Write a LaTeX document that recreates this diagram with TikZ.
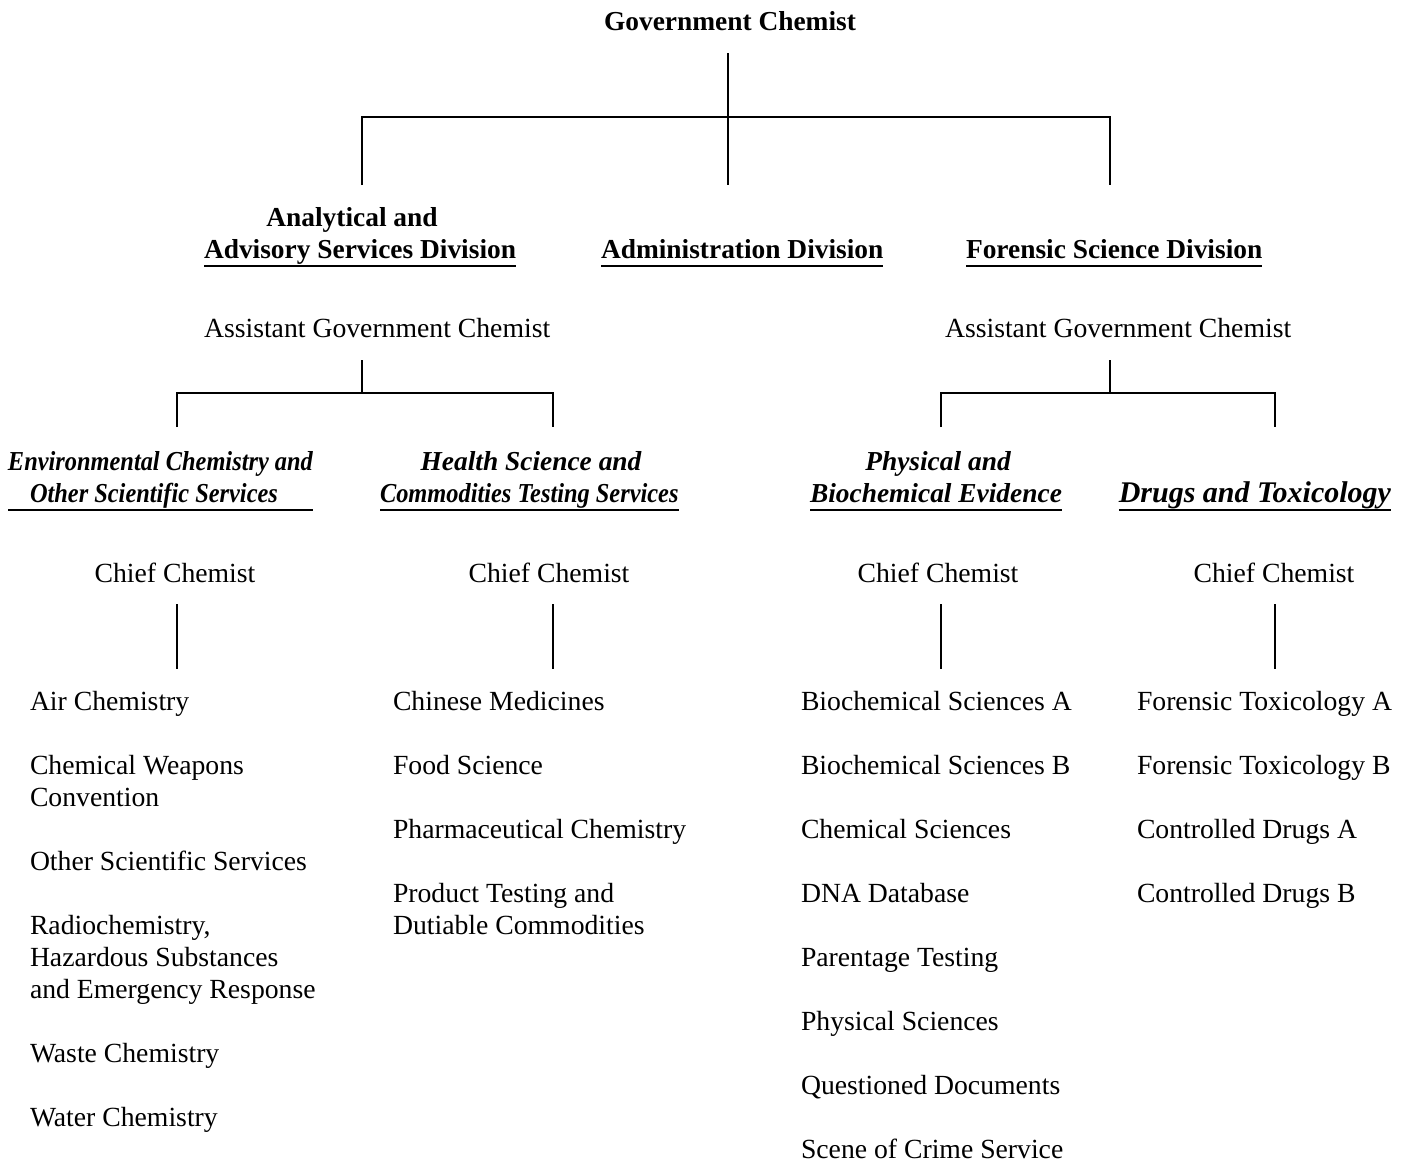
\documentclass[tikz,border=0pt]{standalone}
\usepackage{fontspec}
\setmainfont{Liberation Serif}
\usepackage{graphicx}
\begin{document}
\begin{tikzpicture}[x=1pt,y=-1pt,
  txt/.style={inner sep=0pt, outer sep=0pt, font=\fontsize{27.7}{32}\selectfont},
  ttl/.style={txt, font=\fontsize{27.4}{32}\selectfont\bfseries},
  sub/.style={txt, font=\fontsize{27.4}{32}\selectfont\bfseries\itshape},
  itm/.style={txt, anchor=north west, yshift=22.4pt, align=left},
  conn/.style={line width=2.2pt},
  uln/.style={line width=2.2pt}]
\useasboundingbox (0,0) rectangle (1410,1162);
% top
\node[ttl, anchor=base] (gc) at (730,30) {Government Chemist};
\node[ttl, anchor=base] (aasA) at (352,226) {Analytical and};
\node[ttl, anchor=base west] (aasB) at (204,258) {Advisory Services Division};
\node[ttl, anchor=base west] (adm) at (601,258) {Administration Division};
\node[ttl, anchor=base west] (fsd) at (966,258) {Forensic Science Division};
\foreach \n in {aasB,adm,fsd}{\draw[uln] ([yshift=-8pt]\n.base west) -- ([yshift=-8pt]\n.base east);}
\coordinate (gcS) at (728,53);
\coordinate (j1) at (728,117);
\coordinate (aasN) at (362,185);
\coordinate (admN) at (728,185);
\coordinate (fsdN) at (1110,185);
\draw[conn] (gcS) -- (admN);
\draw[conn] (aasN) |- (j1) -| (fsdN);
% assistant
\node[txt, anchor=base west] (agcL) at (204,337) {Assistant Government Chemist};
\node[txt, anchor=base west] (agcR) at (945,337) {Assistant Government Chemist};
\coordinate (agcLS) at (362,360);
\coordinate (jL) at (362,393);
\coordinate (envN) at (177,427);
\coordinate (hsN) at (553,427);
\coordinate (agcRS) at (1110,360);
\coordinate (jR) at (1110,393);
\coordinate (pbN) at (941,427);
\coordinate (dtN) at (1275,427);
\draw[conn] (agcLS) -- (jL);
\draw[conn] (envN) |- (jL) -| (hsN);
\draw[conn] (agcRS) -- (jR);
\draw[conn] (pbN) |- (jR) -| (dtN);
% sections
\node[sub, anchor=base west] (envA) at (8,470) {\scalebox{0.89}[1]{Environmental Chemistry and}};
\node[sub, anchor=base west] (envB) at (30,502) {\scalebox{0.89}[1]{Other Scientific Services}};
\node[sub, anchor=base] (hsA) at (531,470) {Health Science and};
\node[sub, anchor=base west] (hsB) at (380,502) {\scalebox{0.89}[1]{Commodities Testing Services}};
\node[sub, anchor=base] (pbA) at (938,470) {Physical and};
\node[sub, anchor=base west] (pbB) at (810,502) {Biochemical Evidence};
\node[sub, anchor=base east, font=\fontsize{30}{32}\selectfont\bfseries\itshape] (dt) at (1391,502) {Drugs and Toxicology};
\coordinate (envU) at ([yshift=-8pt]envB.base);
\draw[uln] (envU -| envA.west) -- (envU -| envA.east);
\foreach \n in {hsB,pbB,dt}{\draw[uln] ([yshift=-8pt]\n.base west) -- ([yshift=-8pt]\n.base east);}
% chief chemists
\node[txt, anchor=base] (cc1) at (175,582) {Chief Chemist};
\node[txt, anchor=base] (cc2) at (549,582) {Chief Chemist};
\node[txt, anchor=base] (cc3) at (938,582) {Chief Chemist};
\node[txt, anchor=base] (cc4) at (1274,582) {Chief Chemist};
\coordinate (cc1S) at (177,604); \coordinate (l1N) at (177,669);
\coordinate (cc2S) at (553,604); \coordinate (l2N) at (553,669);
\coordinate (cc3S) at (941,604); \coordinate (l3N) at (941,669);
\coordinate (cc4S) at (1275,604); \coordinate (l4N) at (1275,669);
\draw[conn] (cc1S) -- (l1N);
\draw[conn] (cc2S) -- (l2N);
\draw[conn] (cc3S) -- (l3N);
\draw[conn] (cc4S) -- (l4N);
% column 1
\node[itm] (a1) at (30,710) {\strut Air Chemistry};
\node[itm] (a2) at (30,774) {\strut Chemical Weapons\\\strut Convention};
\node[itm] (a3) at (30,870) {\strut Other Scientific Services};
\node[itm] (a4) at (30,934) {\strut Radiochemistry,\\\strut Hazardous Substances\\\strut and Emergency Response};
\node[itm] (a5) at (30,1062) {\strut Waste Chemistry};
\node[itm] (a6) at (30,1126) {\strut Water Chemistry};
% column 2
\node[itm] (b1) at (393,710) {\strut Chinese Medicines};
\node[itm] (b2) at (393,774) {\strut Food Science};
\node[itm] (b3) at (393,838) {\strut Pharmaceutical Chemistry};
\node[itm] (b4) at (393,902) {\strut Product Testing and\\\strut Dutiable Commodities};
% column 3
\node[itm] (c1) at (801,710) {\strut Biochemical Sciences A};
\node[itm] (c2) at (801,774) {\strut Biochemical Sciences B};
\node[itm] (c3) at (801,838) {\strut Chemical Sciences};
\node[itm] (c4) at (801,902) {\strut DNA Database};
\node[itm] (c5) at (801,966) {\strut Parentage Testing};
\node[itm] (c6) at (801,1030) {\strut Physical Sciences};
\node[itm] (c7) at (801,1094) {\strut Questioned Documents};
\node[itm] (c8) at (801,1158) {\strut Scene of Crime Service};
% column 4
\node[itm] (d1) at (1137,710) {\strut Forensic Toxicology A};
\node[itm] (d2) at (1137,774) {\strut Forensic Toxicology B};
\node[itm] (d3) at (1137,838) {\strut Controlled Drugs A};
\node[itm] (d4) at (1137,902) {\strut Controlled Drugs B};
\end{tikzpicture}
\end{document}
